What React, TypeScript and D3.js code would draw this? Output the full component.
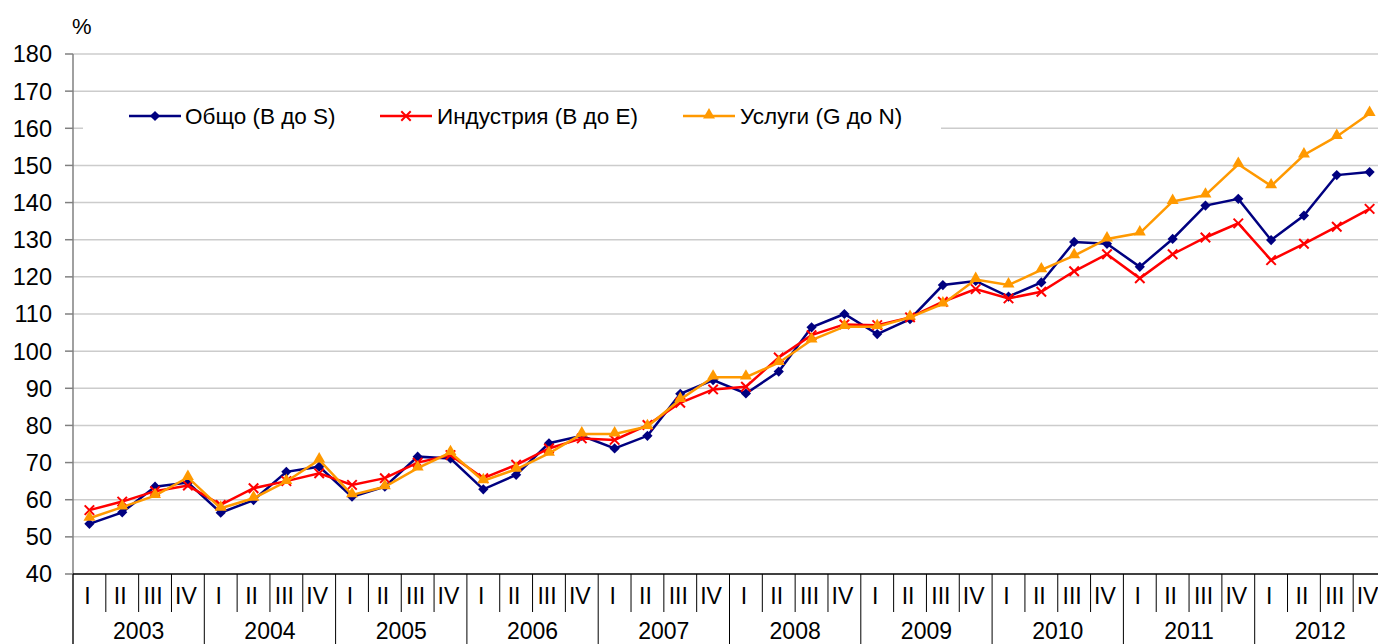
import React from "react";
import * as d3 from "d3";

const years = ["2003", "2004", "2005", "2006", "2007", "2008", "2009", "2010", "2011", "2012"];
const quarterNames = ["I", "II", "III", "IV"];
const yTicks = [40, 50, 60, 70, 80, 90, 100, 110, 120, 130, 140, 150, 160, 170, 180];

// Общо (B до S)
const totalValues = [
  53.5, 56.6, 63.5, 64.6, 56.5, 59.9, 67.5, 68.9, 60.8, 63.5,
  71.6, 71.1, 62.8, 66.7, 75.2, 77.2, 73.8, 77.2, 88.5, 92.2,
  88.6, 94.5, 106.4, 110.0, 104.6, 108.6, 117.8, 118.9, 114.7, 118.5,
  129.4, 128.9, 122.7, 130.2, 139.2, 141.0, 129.9, 136.5, 147.4, 148.2,
];
// Индустрия (B до E)
const industryValues = [
  57.2, 59.5, 62.3, 63.8, 58.6, 63.1, 65.0, 67.1, 64.0, 65.8,
  70.0, 72.0, 65.8, 69.4, 73.8, 76.5, 76.1, 80.1, 86.1, 89.7,
  90.4, 98.3, 104.3, 107.2, 107.0, 109.1, 113.3, 116.7, 114.2, 116.0,
  121.5, 126.1, 119.6, 126.1, 130.6, 134.4, 124.5, 128.9, 133.5, 138.3,
];
// Услуги (G до N)
const servicesValues = [
  55.0, 58.0, 61.1, 66.0, 57.7, 60.4, 64.9, 70.7, 61.3, 63.5,
  68.5, 72.7, 65.1, 68.2, 72.5, 77.7, 77.7, 79.7, 87.0, 93.0,
  93.0, 96.9, 103.0, 106.6, 106.6, 109.1, 112.7, 119.3, 117.8, 121.9,
  125.7, 130.2, 131.8, 140.3, 142.0, 150.3, 144.5, 152.8, 157.8, 164.0,
];

const seriesNames = ["Общо (B до S)", "Индустрия (B до E)", "Услуги (G до N)"];

const W = 1378;
const H = 644;
const FONT = "'Liberation Sans', Arial, sans-serif";
const margin = { left: 73, top: 54, bottom: 574 };
const plotRight = 1386;

const App: React.FC = () => {
  const keys = years.flatMap((yr) => quarterNames.map((q) => `${yr}-${q}`));
  const x = d3.scaleBand<string>().domain(keys).range([margin.left, plotRight]).padding(0);
  const y = d3.scaleLinear().domain([40, 180]).range([margin.bottom, margin.top]);
  const cx = (i: number) => (x(keys[i]) as number) + x.bandwidth() / 2;

  const series = [
    { name: seriesNames[0], values: totalValues, color: "#000080", marker: "diamond" },
    { name: seriesNames[1], values: industryValues, color: "#FF0000", marker: "times" },
    { name: seriesNames[2], values: servicesValues, color: "#FF9900", marker: "triangle" },
  ];

  const line = d3
    .line<number>()
    .x((_, i) => cx(i))
    .y((d) => y(d));

  const diamond = d3.symbol(d3.symbolSquare, 52)() as string;
  const times = d3.symbol(d3.symbolTimes, 60)() as string;
  const triangle = d3.symbol(d3.symbolTriangle, 62)() as string;

  const marker = (kind: string, color: string, px: number, py: number, key: string | number) => {
    if (kind === "diamond")
      return <path key={key} d={diamond} fill={color} transform={`translate(${px},${py}) rotate(45)`} />;
    if (kind === "times")
      return <path key={key} d={times} fill="none" stroke={color} strokeWidth={2} transform={`translate(${px},${py})`} />;
    return <path key={key} d={triangle} fill={color} transform={`translate(${px},${py - 1})`} />;
  };

  const yearWidth = x.bandwidth() * 4;

  // legend layout
  const legendItems = [
    { x0: 129, tx: 185 },
    { x0: 380, tx: 437 },
    { x0: 683, tx: 740 },
  ];
  const legendY = 116;

  return (
    <svg
      width={W}
      height={H}
      style={{ position: "fixed", left: 0, top: 0, background: "#fff" }}
      fontFamily={FONT}
    >
      <rect width={W} height={H} fill="#fff" />

      {/* grid lines */}
      {yTicks.slice(1).map((t) => (
        <line key={t} x1={margin.left} x2={W} y1={y(t)} y2={y(t)} stroke="#cccccc" strokeWidth={1.5} />
      ))}

      {/* y axis */}
      <line x1={margin.left} x2={margin.left} y1={margin.top} y2={H} stroke="#808080" strokeWidth={1.5} />
      {yTicks.map((t) => (
        <g key={t}>
          <line x1={65} x2={margin.left} y1={y(t)} y2={y(t)} stroke="#808080" strokeWidth={1.5} />
          <text x={52} y={y(t)} dy="0.36em" textAnchor="end" fontSize={23.5} fill="#000">
            {t}
          </text>
        </g>
      ))}
      <text x={72} y={34} fontSize={22} fill="#000">%</text>

      {/* x axis */}
      <line x1={margin.left} x2={W} y1={margin.bottom} y2={margin.bottom} stroke="#000" strokeWidth={1.5} />
      {keys.map((k, i) => {
        const left = x(k) as number;
        const isYearStart = i % 4 === 0;
        return (
          <g key={k}>
            <line
              x1={left}
              x2={left}
              y1={margin.bottom}
              y2={isYearStart ? H : 612}
              stroke="#000"
              strokeWidth={1}
            />
            <text x={cx(i) - 2} y={604} textAnchor="middle" fontSize={23} fill="#000">
              {quarterNames[i % 4]}
            </text>
          </g>
        );
      })}
      {years.map((yr, j) => (
        <text
          key={yr}
          x={(x(keys[j * 4]) as number) + yearWidth / 2}
          y={639}
          textAnchor="middle"
          fontSize={23}
          fill="#000"
        >
          {yr}
        </text>
      ))}

      {/* legend box */}
      <rect x={83} y={94} width={858} height={46} fill="#fff" />

      {/* series */}
      {series.map((s) => (
        <g key={s.name}>
          <path d={line(s.values) as string} fill="none" stroke={s.color} strokeWidth={2.5} />
          {s.values.map((v, i) => marker(s.marker, s.color, cx(i), y(v), i))}
        </g>
      ))}

      {/* legend */}
      {series.map((s, i) => (
        <g key={s.name}>
          <line
            x1={legendItems[i].x0}
            x2={legendItems[i].x0 + 52}
            y1={legendY}
            y2={legendY}
            stroke={s.color}
            strokeWidth={2.5}
          />
          {marker(s.marker, s.color, legendItems[i].x0 + 26, legendY, "m")}
          <text x={legendItems[i].tx} y={legendY} dy="0.36em" fontSize={22.5} fill="#000">
            {s.name}
          </text>
        </g>
      ))}
    </svg>
  );
};

export default App;
